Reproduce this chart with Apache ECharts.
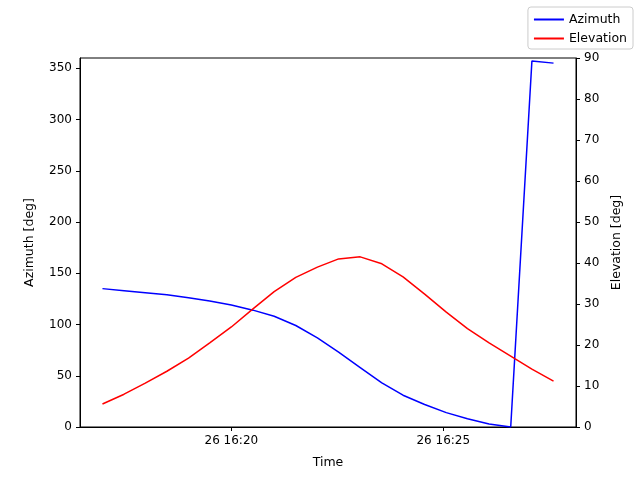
<!DOCTYPE html>
<html><head><meta charset="utf-8">
<script src="https://cdn.jsdelivr.net/npm/echarts@6/dist/echarts.min.js"></script>
<style>html,body{margin:0;padding:0;background:#fff}#c{width:640px;height:480px}</style>
</head><body><div id="c"></div>
<script>
// time in minutes after 16:00 on day 26
var times = [16.96,17.47,17.97,18.48,18.99,19.49,20.00,20.51,21.01,21.52,22.03,22.53,23.04,23.55,24.05,24.56,25.07,25.57,26.08,26.59,27.09,27.60];
var azimuth = [135,133,131,129,126,123,119,114,108,99,87,73,58,43,31,22,14,8,3,0,357,355];
var elevation = [5.6,8,10.7,13.6,16.8,20.5,24.4,28.8,33.0,36.5,39.0,41,41.5,39.8,36.6,32.4,28,24,20.5,17.3,14.1,11.2];
var xTicks = [20,25];
var leftTicks = [0,50,100,150,200,250,300,350];
var rightTicks = [0,10,20,30,40,50,60,70,80,90];
function pairs(a){return times.map(function(t,i){return [t,a[i]];});}
var font='DejaVu Sans';
var chart = echarts.init(document.getElementById('c'));
var axLine={show:true,lineStyle:{color:'#000',width:1}};
chart.setOption({
  animation:false,
  textStyle:{fontFamily:font},
  grid:{left:80,right:64,top:58,bottom:53,show:true,borderColor:'#000',borderWidth:1},
  legend:{right:7,top:7,orient:'vertical',itemWidth:30,itemHeight:2,itemGap:6,padding:[6,6,4,6],
    borderColor:'#ccc',borderWidth:1,borderRadius:3,textStyle:{fontSize:12.5,color:'#000'},
    data:[{name:'Azimuth',icon:'rect'},{name:'Elevation',icon:'rect'}]},
  xAxis:{type:'value',min:16.43,max:28.13,name:'Time',nameLocation:'middle',nameGap:29,
    nameTextStyle:{fontSize:12.5,color:'#000'},axisLine:axLine,splitLine:{show:false},
    axisTick:{show:true,length:4,lineStyle:{color:'#000'},customValues:xTicks},
    axisLabel:{color:'#000',fontSize:12,customValues:xTicks,formatter:function(v){return '26 16:'+Math.round(v);}}},
  yAxis:[
    {type:'value',min:0,max:360,name:'Azimuth [deg]',nameLocation:'middle',nameGap:44,
     nameTextStyle:{fontSize:12.5,color:'#000'},axisLine:axLine,splitLine:{show:false},
     axisTick:{show:true,length:4,lineStyle:{color:'#000'},customValues:leftTicks},
     axisLabel:{color:'#000',fontSize:12,customValues:leftTicks}},
    {type:'value',min:0,max:90,interval:10,position:'right',name:'Elevation [deg]',nameLocation:'middle',nameGap:32,
     nameRotate:90,nameTextStyle:{fontSize:12.5,color:'#000'},axisLine:axLine,splitLine:{show:false},
     axisTick:{show:true,length:4,lineStyle:{color:'#000'}},
     axisLabel:{color:'#000',fontSize:12}}
  ],
  series:[
    {name:'Azimuth',type:'line',yAxisIndex:0,data:pairs(azimuth),showSymbol:false,color:'#0000ff',lineStyle:{width:1.5}},
    {name:'Elevation',type:'line',yAxisIndex:1,data:pairs(elevation),showSymbol:false,color:'#ff0000',lineStyle:{width:1.5}}
  ]
});
</script></body></html>
